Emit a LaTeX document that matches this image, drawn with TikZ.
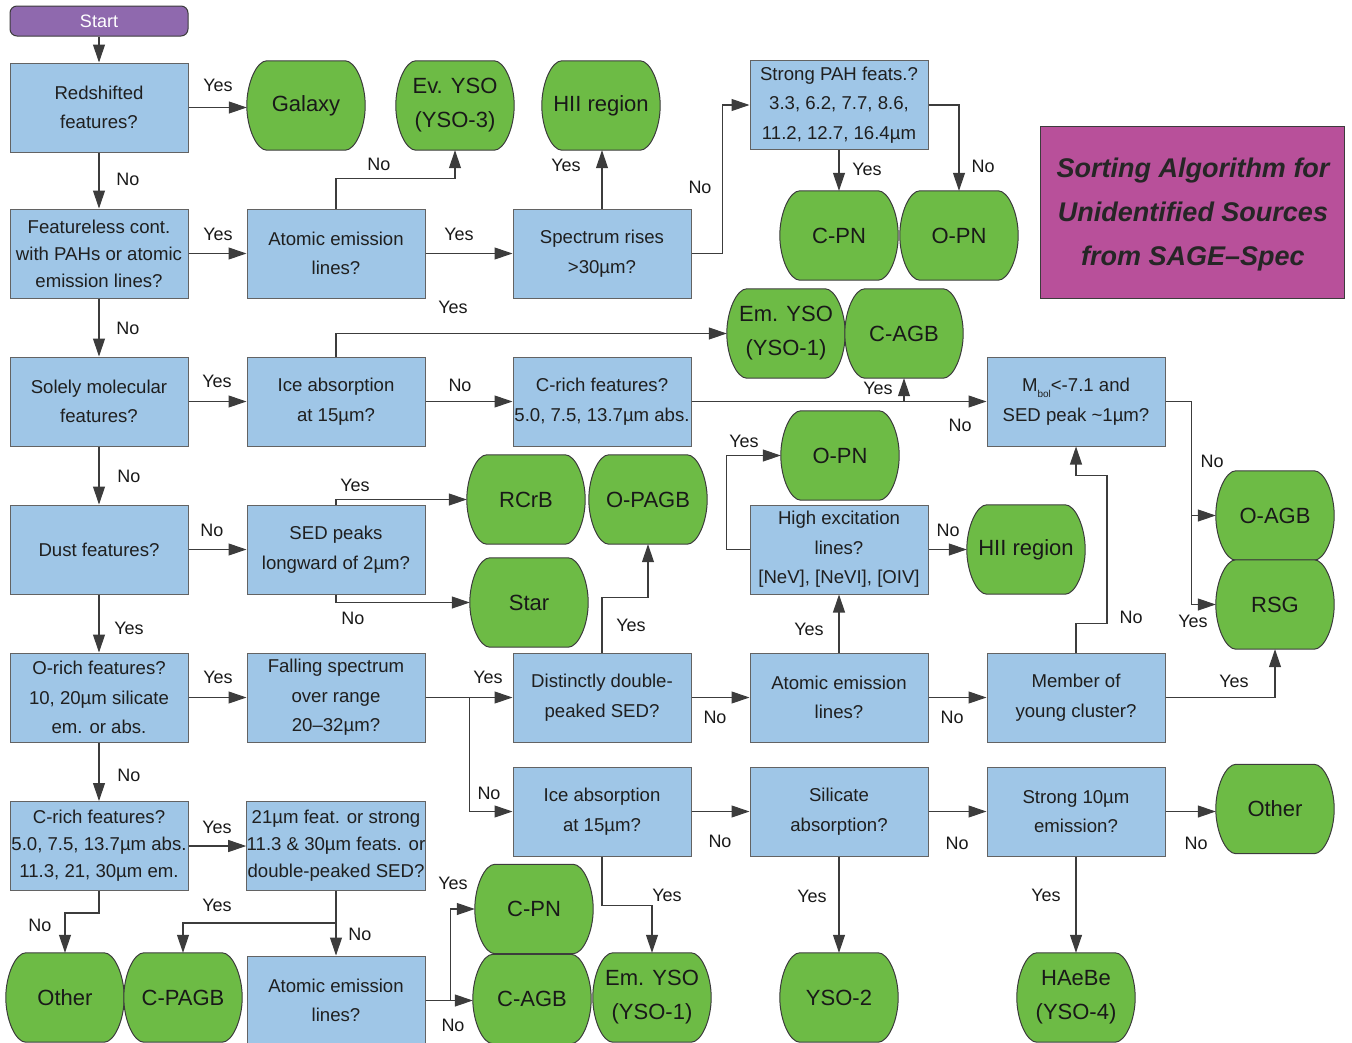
\documentclass[tikz,border=0pt]{standalone}
\usepackage{fontspec}
\setmainfont{Liberation Sans}
\usetikzlibrary{arrows.meta,calc,backgrounds}
\definecolor{boxblue}{HTML}{9FC6E7}
\definecolor{termgreen}{HTML}{6DBB45}
\definecolor{startpurple}{HTML}{8F69AE}
\definecolor{titlemag}{HTML}{B8509A}
\definecolor{edgegray}{HTML}{3C3C3C}
\begin{document}
\begin{tikzpicture}[x=1pt,y=-1pt,
 qbox/.style={draw=edgegray!80, line width=1pt, fill=boxblue, minimum width=178pt, minimum height=89pt, inner sep=0pt, align=center, font=\fontsize{18.6}{29.5}\selectfont, text=black!88},
 qbox3/.style={qbox, font=\fontsize{18.6}{27}\selectfont},
 startbox/.style={draw=edgegray, line width=1pt, fill=startpurple, rounded corners=7pt, minimum width=178pt, minimum height=30pt, inner sep=0pt, text=white, font=\fontsize{18}{20}\selectfont},
 term/.style={minimum width=118pt, minimum height=89pt, inner sep=0pt, align=center, font=\fontsize{22}{34}\selectfont, text=black!90},
 termshape/.style={fill=termgreen, draw=edgegray, line width=1pt},
 lab/.style={font=\fontsize{18}{20}\selectfont, inner sep=0pt, text=black!90},
 arr/.style={draw=edgegray, line width=1.1pt, -{Triangle[length=18pt,width=12pt]}},
 titlebox/.style={draw=edgegray, line width=1pt, fill=titlemag, minimum width=304pt, minimum height=172pt, inner sep=0pt},
 titletext/.style={align=center, inner sep=0pt, text=black!85, font=\fontsize{27}{44}\selectfont\bfseries\itshape}
]
\useasboundingbox (0,0) rectangle (1352,1042);

% start and title
\node[startbox] (start) at (99,21) {Start};
\node[titlebox] (title) at (1192,212) {};
\node[titletext] (titletxt) at (1193,215) {Sorting Algorithm for\\Unidentified Sources\\from SAGE–Spec};

% question boxes
\node[qbox] (red) at (99,107.5) {Redshifted\\features?};
\node[qbox3] (feat) at (99,253.5) {Featureless cont.\\with PAHs or atomic\\emission lines?};
\node[qbox] (sole) at (99,401.5) {Solely molecular\\features?};
\node[qbox] (dust) at (99,549.5) {Dust features?};
\node[qbox] (orich) at (99,697.5) {O-rich features?\\10, 20µm silicate\\em. or abs.};
\node[qbox3] (crich2) at (99,846) {C-rich features?\\5.0, 7.5, 13.7µm abs.\\11.3, 21, 30µm em.};
\node[qbox] (atom1) at (336,253.5) {Atomic emission\\lines?};
\node[qbox] (ice1) at (336,401.5) {Ice absorption\\at 15µm?};
\node[qbox] (sed) at (336,549.5) {SED peaks\\longward of 2µm?};
\node[qbox] (fall) at (336,697.5) {Falling spectrum\\over range\\20–32µm?};
\node[qbox3] (c21) at (336,846) {21µm feat. or strong\\11.3 \& 30µm feats. or\\double-peaked SED?};
\node[qbox] (atom3) at (336,1000.5) {Atomic emission\\lines?};
\node[qbox] (spec) at (602,253.5) {Spectrum rises\\>30µm?};
\node[qbox] (crich1) at (602,401.5) {C-rich features?\\5.0, 7.5, 13.7µm abs.};
\node[qbox] (dist) at (602,697.5) {Distinctly double-\\peaked SED?};
\node[qbox] (ice2) at (602,811.5) {Ice absorption\\at 15µm?};
\node[qbox] (pah) at (839,105) {Strong PAH feats.?\\3.3, 6.2, 7.7, 8.6,\\11.2, 12.7, 16.4µm};
\node[qbox] (high) at (839,549.5) {High excitation\\lines?\\{[NeV], [NeVI], [OIV]}};
\node[qbox] (atom2) at (839,697.5) {Atomic emission\\lines?};
\node[qbox] (silic) at (839,811.5) {Silicate\\absorption?};
\node[qbox] (mbol) at (1076,401.5) {M\raisebox{-0.6ex}{\fontsize{10}{10}\selectfont bol}<-7.1 and\\SED peak \textasciitilde 1µm?};
\node[qbox] (member) at (1076,697.5) {Member of\\young cluster?};
\node[qbox] (strong) at (1076,811.5) {Strong 10µm\\emission?};

% terminals
\node[term] (galaxy) at (306,105.5) {Galaxy};
\node[term] (evyso) at (455,105.5) {Ev. YSO\\(YSO-3)};
\node[term] (hii1) at (601,105.5) {HII region};
\node[term] (cpn1) at (839,235.5) {C-PN};
\node[term] (opn1) at (959,235.5) {O-PN};
\node[term] (emyso1) at (786,333.5) {Em. YSO\\(YSO-1)};
\node[term] (cagb1) at (904,333.5) {C-AGB};
\node[term] (rcrb) at (526,499.5) {RCrB};
\node[term] (opagb) at (648,499.5) {O-PAGB};
\node[term] (star) at (529,602.5) {Star};
\node[term] (opn2) at (840,455.5) {O-PN};
\node[term] (hii2) at (1026,549.5) {HII region};
\node[term] (oagb) at (1275,515.5) {O-AGB};
\node[term] (rsg) at (1275,604.5) {RSG};
\node[term] (other2) at (1275,809) {Other};
\node[term] (haebe) at (1076,997.5) {HAeBe\\(YSO-4)};
\node[term] (yso2) at (839,997.5) {YSO-2};
\node[term] (emyso2) at (652,997.5) {Em. YSO\\(YSO-1)};
\node[term] (cpn2) at (534,909) {C-PN};
\node[term] (cagb2) at (532,999) {C-AGB};
\node[term] (other1) at (65,997.5) {Other};
\node[term] (cpagb) at (183,997.5) {C-PAGB};

\begin{scope}[on background layer]
\foreach \n in {galaxy,evyso,hii1,cpn1,opn1,emyso1,cagb1,rcrb,opagb,star,opn2,hii2,oagb,rsg,other2,haebe,yso2,emyso2,cpn2,cagb2,other1,cpagb}{
 \path[termshape] ($(\n.north west)+(20,0)$) -- ($(\n.north east)+(-20,0)$)
   .. controls ($(\n.north east)+(-10,0)$) and ($(\n.north east)+(0,22)$) .. (\n.east)
   .. controls ($(\n.south east)+(0,-22)$) and ($(\n.south east)+(-10,0)$) .. ($(\n.south east)+(-20,0)$)
   -- ($(\n.south west)+(20,0)$)
   .. controls ($(\n.south west)+(10,0)$) and ($(\n.south west)+(0,-22)$) .. (\n.west)
   .. controls ($(\n.north west)+(0,22)$) and ($(\n.north west)+(10,0)$) .. cycle;
}
\end{scope}

% connectors
\draw[arr] (start.south) -- (red.north);
\draw[arr] (red.east) -- (red.east -| galaxy.west);
\draw[arr] (red.south) -- (feat.north);
\draw[arr] (feat.east) -- (atom1.west);
\draw[arr] (feat.south) -- (sole.north);
\draw[arr] (atom1.north) -- ++(0,-30) -| (evyso.south);
\draw[arr] (atom1.east) -- (spec.west);
\draw[arr] (ice1.north) |- (emyso1.west);
\draw[arr] (spec.north) -- (spec.north |- hii1.south);
\draw[arr] (spec.east) -- ++(31,0) |- (pah.west);
\draw[arr] (pah.south) -- (pah.south |- cpn1.north);
\draw[arr] (pah.east) -| (opn1.north);
\draw[arr] (sole.east) -- (ice1.west);
\draw[arr] (sole.south) -- (dust.north);
\draw[arr] (ice1.east) -- (crich1.west);
\draw[arr] (crich1.east) -- (mbol.west);
\draw[arr] (crich1.east -| cagb1.south) -- (cagb1.south);
\draw[arr] (mbol.east) -- ++(26,0) |- (oagb.west);
\draw[arr] (mbol.east) -- ++(26,0) |- (rsg.west);
\draw[arr] (dust.east) -- (sed.west);
\draw[arr] (dust.south) -- (orich.north);
\draw[arr] (sed.north) |- (rcrb.west);
\draw[arr] (sed.south) |- (star.west);
\draw[arr] (orich.east) -- (fall.west);
\draw[arr] (orich.south) -- (crich2.north);
\draw[arr] (fall.east) -- (dist.west);
\draw[arr] (fall.east) -- ++(44,0) |- (ice2.west);
\draw[arr] (dist.north) -- ++(0,-55) -| (opagb.south);
\draw[arr] (dist.east) -- (atom2.west);
\draw[arr] (atom2.north) -- (high.south);
\draw[arr] (high.west) -- ++(-23,0) |- (opn2.west);
\draw[arr] (high.east) -- (hii2.west);
\draw[arr] (atom2.east) -- (member.west);
\draw[arr] (member.north) -- ++(0,-29) -- ++(31,0) -- ++(0,-148) -| (mbol.south);
\draw[arr] (member.east) -| (rsg.south);
\draw[arr] (crich2.east) -- (c21.west);
\draw[arr] (crich2.south) -- ++(0,22) -| (other1.north);
\draw[arr] (c21.south) -- ++(0,32) -| (cpagb.north);
\draw[arr] (c21.south) -- (atom3.north);
\draw[arr] (atom3.east) -- ++(25,0) |- (cpn2.west);
\draw[arr] (atom3.east) -- (atom3.east -| cagb2.west);
\draw[arr] (ice2.east) -- (silic.west);
\draw[arr] (ice2.south) -- ++(0,49) -| (emyso2.north);
\draw[arr] (silic.south) -- (yso2.north);
\draw[arr] (silic.east) -- (strong.west);
\draw[arr] (strong.east) -- (strong.east -| other2.west);
\draw[arr] (strong.south) -- (haebe.north);

% labels
\foreach \x/\y/\t [count=\i] in {218/85/Yes, 128/179/No, 218/234/Yes, 128/328/No, 379/164/No, 459/234/Yes, 453/307/Yes, 566/165/Yes, 700/187/No, 867/169/Yes, 983/166/No, 217/381/Yes, 129/476/No, 460/385/No, 878/388/Yes, 960/425/No, 1212/461/No, 1193/621/Yes, 212/530/No, 129/628/Yes, 355/485/Yes, 353/618/No, 218/677/Yes, 129/775/No, 488/677/Yes, 489/793/No, 631/625/Yes, 715/717/No, 809/629/Yes, 744/441/Yes, 948/530/No, 952/717/No, 1131/617/No, 1234/681/Yes, 217/827/Yes, 40/925/No, 217/905/Yes, 360/934/No, 453/883/Yes, 453/1025/No, 720/841/No, 667/895/Yes, 957/843/No, 812/896/Yes, 1196/843/No, 1046/895/Yes}
  \node[lab] (lab\i) at (\x,\y) {\t};
\end{tikzpicture}
\end{document}
